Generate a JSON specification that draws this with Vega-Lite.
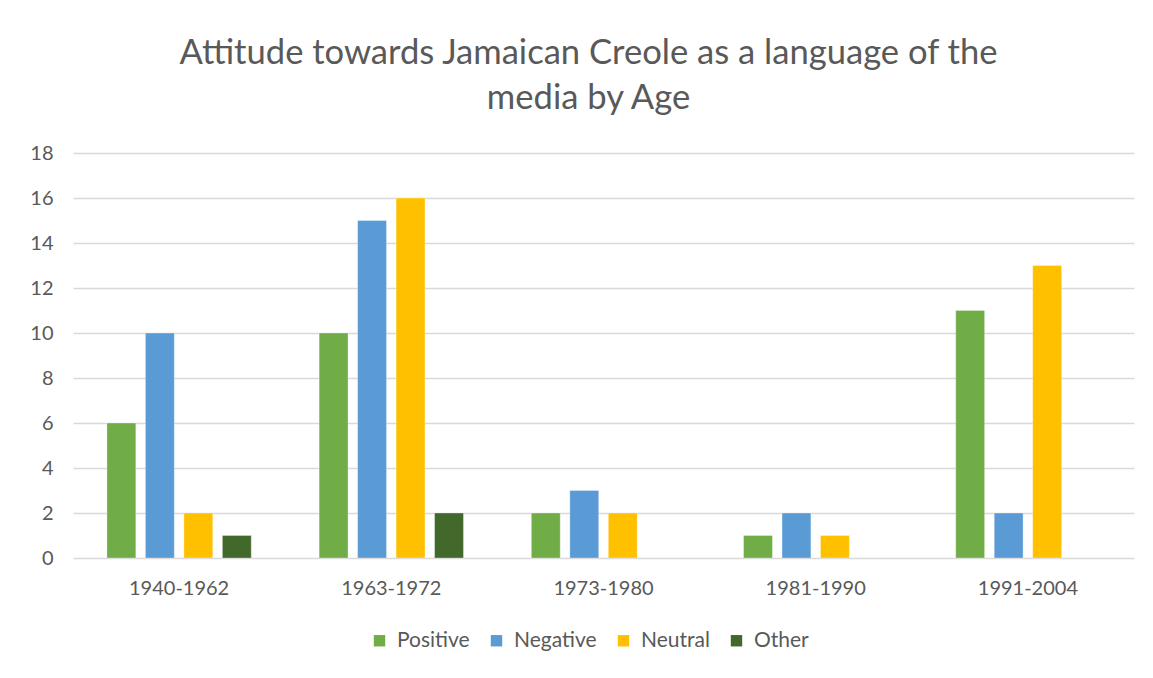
{
  "$schema": "https://vega.github.io/schema/vega-lite/v6.json",
  "width": 1061,
  "height": 405,
  "padding": {"left": 29, "right": 18, "top": 36, "bottom": 20},
  "background": "white",
  "title": {
    "text": ["Attitude towards Jamaican Creole as a language of the", "media by Age"],
    "fontSize": 34.6,
    "font": "Lato",
    "fontWeight": "normal",
    "color": "#595959",
    "lineHeight": 45,
    "offset": 26,
    "anchor": "middle",
    "dx": -15
  },
  "data": {
    "values": [
      {"age": "1940-1962", "attitude": "Positive", "count": 6},
      {"age": "1940-1962", "attitude": "Negative", "count": 10},
      {"age": "1940-1962", "attitude": "Neutral", "count": 2},
      {"age": "1940-1962", "attitude": "Other", "count": 1},
      {"age": "1963-1972", "attitude": "Positive", "count": 10},
      {"age": "1963-1972", "attitude": "Negative", "count": 15},
      {"age": "1963-1972", "attitude": "Neutral", "count": 16},
      {"age": "1963-1972", "attitude": "Other", "count": 2},
      {"age": "1973-1980", "attitude": "Positive", "count": 2},
      {"age": "1973-1980", "attitude": "Negative", "count": 3},
      {"age": "1973-1980", "attitude": "Neutral", "count": 2},
      {"age": "1981-1990", "attitude": "Positive", "count": 1},
      {"age": "1981-1990", "attitude": "Negative", "count": 2},
      {"age": "1981-1990", "attitude": "Neutral", "count": 1},
      {"age": "1991-2004", "attitude": "Positive", "count": 11},
      {"age": "1991-2004", "attitude": "Negative", "count": 2},
      {"age": "1991-2004", "attitude": "Neutral", "count": 13}
    ]
  },
  "mark": {"type": "bar", "stroke": "white", "strokeWidth": 0.5, "strokeOpacity": 0.6},
  "encoding": {
    "x": {
      "field": "age",
      "type": "nominal",
      "sort": null,
      "scale": {"paddingInner": 0.32, "paddingOuter": 0.16},
      "axis": {
        "title": null,
        "labelAngle": 0,
        "labelFontSize": 20,
        "labelFont": "Lato",
        "labelColor": "#595959",
        "labelPadding": 20,
        "ticks": false,
        "domain": false
      }
    },
    "xOffset": {
      "field": "attitude",
      "type": "nominal",
      "sort": ["Positive", "Negative", "Neutral", "Other"],
      "scale": {"paddingInner": 0.25, "paddingOuter": 0}
    },
    "y": {
      "field": "count",
      "type": "quantitative",
      "scale": {"domain": [0, 18]},
      "axis": {
        "title": null,
        "values": [0, 2, 4, 6, 8, 10, 12, 14, 16, 18],
        "labelFontSize": 20,
        "labelFont": "Lato",
        "labelColor": "#595959",
        "labelPadding": 20,
        "ticks": false,
        "domain": false,
        "gridColor": "#d9d9d9",
        "gridWidth": 1.3
      }
    },
    "color": {
      "field": "attitude",
      "type": "nominal",
      "sort": ["Positive", "Negative", "Neutral", "Other"],
      "scale": {
        "domain": ["Positive", "Negative", "Neutral", "Other"],
        "range": ["#70AD47", "#5B9BD5", "#FFC000", "#43682B"]
      },
      "legend": {
        "title": null,
        "orient": "none",
        "legendX": 296,
        "legendY": 477,
        "direction": "horizontal",
        "symbolType": "square",
        "symbolSize": 130,
        "symbolStrokeWidth": 0,
        "labelFontSize": 21,
        "labelFont": "Lato",
        "labelColor": "#595959",
        "columnPadding": 16,
        "labelOffset": 7
      }
    }
  },
  "config": {"view": {"stroke": null}}
}
